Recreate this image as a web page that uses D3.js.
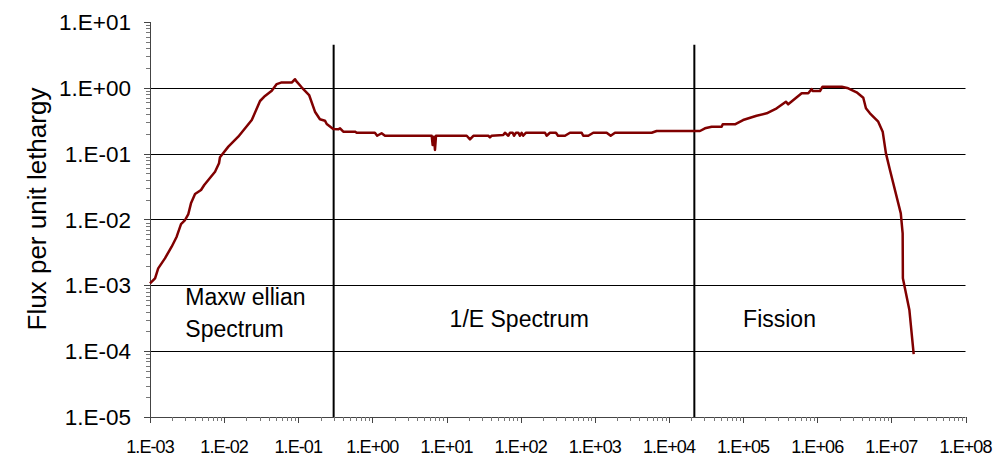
<!DOCTYPE html>
<html lang="en">

<head>
    <meta charset="UTF-8">
    <title>Neutron Flux Spectrum</title>
    <script src="https://d3js.org/d3.v7.min.js"></script>
    <style>
        body { margin: 0; background: #fff; }
        svg { display: block; font-family: "Liberation Sans", Arial, sans-serif; }
    </style>
</head>

<body>
    <div id="chart"></div>

    <script>
        // energy (eV) and flux per unit lethargy
        const energy = [
            1.0e-3, 1.17e-3, 1.29e-3, 1.59e-3, 1.96e-3, 2.29e-3, 2.62e-3, 2.97e-3, 3.29e-3, 3.57e-3,
            4.05e-3, 4.88e-3, 5.39e-3, 7.54e-3, 8.53e-3, 8.79e-3, 1.14e-2, 1.55e-2, 2.36e-2, 3.05e-2,
            3.56e-2, 4.39e-2, 5.12e-2, 5.85e-2, 8.15e-2, 9.04e-2, 9.53e-2, 0.111, 0.140, 0.168,
            0.196, 0.229, 0.242, 0.296, 0.347, 0.366, 0.405, 0.582, 0.614, 1.08,
            1.16, 1.33, 1.48, 6.31, 6.50, 6.77, 6.98, 7.21, 18.7, 20.7,
            23.0, 36.6, 38.5, 40.6, 58.2, 61.4, 68.1, 71.8, 78.0, 81.3,
            86.4, 92.9, 97.9, 103, 108, 118, 213, 224, 248, 299,
            319, 396, 462, 665, 698, 817, 953, 1445, 1637, 1871,
            5848, 6823, 26200, 30600, 37700, 51400, 53100, 77700, 1.0e5, 1.52e5,
            2.08e5, 2.84e5, 3.78e5, 4.06e5, 6.17e5, 7.57e5, 8.41e5, 8.67e5, 1.09e6, 1.18e6,
            2.14e6, 2.62e6, 3.40e6, 4.18e6, 4.54e6, 5.14e6, 6.65e6, 7.64e6, 8.45e6, 9.57e6,
            1.34e7, 1.42e7, 1.43e7, 1.75e7, 2.0e7
        ];
        const flux = [
            1.07e-3, 1.28e-3, 1.81e-3, 2.57e-3, 3.86e-3, 5.48e-3, 8.53e-3, 9.82e-3, 1.21e-2, 1.76e-2,
            2.44e-2, 2.81e-2, 3.34e-2, 5.32e-2, 7.14e-2, 8.81e-2, 0.128, 0.181, 0.324, 0.631,
            0.752, 0.904, 1.14, 1.20, 1.20, 1.35, 1.24, 1.02, 0.778, 0.434,
            0.333, 0.317, 0.282, 0.237, 0.234, 0.243, 0.216, 0.216, 0.208, 0.208,
            0.187, 0.204, 0.187, 0.187, 0.135, 0.181, 0.114, 0.187, 0.187, 0.165,
            0.187, 0.187, 0.177, 0.187, 0.192, 0.208, 0.187, 0.208, 0.208, 0.187,
            0.208, 0.208, 0.187, 0.208, 0.187, 0.208, 0.208, 0.187, 0.208, 0.208,
            0.187, 0.187, 0.208, 0.208, 0.187, 0.187, 0.208, 0.208, 0.187, 0.208,
            0.208, 0.221, 0.221, 0.243, 0.257, 0.257, 0.279, 0.279, 0.324, 0.377,
            0.410, 0.489, 0.616, 0.562, 0.826, 0.826, 0.960, 0.895, 0.895, 1.04,
            1.04, 0.984, 0.855, 0.708, 0.489, 0.410, 0.306, 0.216, 0.101, 5.65e-2,
            1.24e-2, 6.17e-3, 1.28e-3, 4.22e-4, 9.0e-5
        ];

        // region boundaries (eV) and labels
        const boundaries = [0.3, 2.2e4];
        const boundaryTop = 4.5;
        const regionNames = [["Maxw ellian", "Spectrum"], ["1/E Spectrum"], ["Fission"]];
        const regionAt = [[3e-3, 5e-4], [11, 2.3e-4], [1e5, 2.3e-4]];

        const xDecades = d3.range(-3, 9);
        const yDecades = d3.range(-5, 2);
        const yTitle = "Flux per unit lethargy";

        const width = 999, height = 457;
        const plotL = 150, plotR = 965.5, plotT = 22, plotB = 417;

        const x = d3.scaleLog().domain([1e-3, 1e8]).range([plotL, plotR]);
        const y = d3.scaleLog().domain([1e-5, 1e1]).range([plotB, plotT]);

        const expLabel = e => "1.E" + (e < 0 ? "-" : "+") + String(Math.abs(e)).padStart(2, "0");

        const svg = d3.select("#chart").append("svg")
            .attr("width", width)
            .attr("height", height);

        // horizontal gridlines (not at top or bottom)
        svg.append("g")
            .selectAll("line")
            .data(yDecades.filter(e => e > -5 && e < 1))
            .enter().append("line")
            .attr("x1", plotL).attr("x2", plotR)
            .attr("y1", d => Math.round(y(Math.pow(10, d))) + 0.5)
            .attr("y2", d => Math.round(y(Math.pow(10, d))) + 0.5)
            .attr("stroke", "#000")
            .attr("stroke-width", 1);

        // minor tick values
        const minor = (decades) => {
            const out = [];
            decades.slice(0, -1).forEach(e => {
                for (let k = 2; k <= 9; k++) out.push(k * Math.pow(10, e));
            });
            return out;
        };

        // y axis
        const yAxis = svg.append("g");
        yAxis.append("line")
            .attr("x1", plotL + 0.5).attr("x2", plotL + 0.5)
            .attr("y1", plotT).attr("y2", plotB)
            .attr("stroke", "#444");
        yAxis.selectAll(".ymaj")
            .data(yDecades)
            .enter().append("line")
            .attr("x1", plotL - 6).attr("x2", plotL)
            .attr("y1", d => Math.round(y(Math.pow(10, d))) + 0.5)
            .attr("y2", d => Math.round(y(Math.pow(10, d))) + 0.5)
            .attr("stroke", "#444");
        yAxis.selectAll(".ymin")
            .data(minor(yDecades))
            .enter().append("line")
            .attr("x1", plotL - 4).attr("x2", plotL)
            .attr("y1", d => Math.round(y(d)) + 0.5)
            .attr("y2", d => Math.round(y(d)) + 0.5)
            .attr("stroke", "#777");
        yAxis.selectAll("text")
            .data(yDecades)
            .enter().append("text")
            .attr("x", 131)
            .attr("y", d => y(Math.pow(10, d)))
            .attr("dy", "0.36em")
            .attr("text-anchor", "end")
            .attr("font-size", 22.5)
            .text(d => expLabel(d));

        // x axis
        const xAxis = svg.append("g");
        xAxis.append("line")
            .attr("x1", plotL).attr("x2", plotR)
            .attr("y1", plotB + 0.5).attr("y2", plotB + 0.5)
            .attr("stroke", "#444");
        xAxis.selectAll(".xmaj")
            .data(xDecades)
            .enter().append("line")
            .attr("x1", d => Math.round(x(Math.pow(10, d))) + 0.5)
            .attr("x2", d => Math.round(x(Math.pow(10, d))) + 0.5)
            .attr("y1", plotB).attr("y2", plotB + 6)
            .attr("stroke", "#444");
        xAxis.selectAll(".xmin")
            .data(minor(xDecades))
            .enter().append("line")
            .attr("x1", d => Math.round(x(d)) + 0.5)
            .attr("x2", d => Math.round(x(d)) + 0.5)
            .attr("y1", plotB).attr("y2", plotB + 4)
            .attr("stroke", "#777");
        xAxis.selectAll("text")
            .data(xDecades)
            .enter().append("text")
            .attr("x", d => x(Math.pow(10, d)))
            .attr("y", 452.5)
            .attr("text-anchor", "middle")
            .attr("font-size", 18)
            .attr("letter-spacing", -0.9)
            .text(d => expLabel(d));

        // y title
        svg.append("text")
            .attr("transform", "translate(46,209) rotate(-90)")
            .attr("text-anchor", "middle")
            .attr("font-size", 26)
            .text(yTitle);

        // region boundaries
        svg.append("g")
            .selectAll("line")
            .data(boundaries)
            .enter().append("line")
            .attr("x1", d => x(d)).attr("x2", d => x(d))
            .attr("y1", y(boundaryTop)).attr("y2", plotB)
            .attr("stroke", "#000")
            .attr("stroke-width", 2);

        // region labels
        svg.append("g")
            .selectAll("text")
            .data(regionNames)
            .enter().append("text")
            .attr("x", (d, i) => x(regionAt[i][0]))
            .attr("y", (d, i) => y(regionAt[i][1]))
            .attr("font-size", 23)
            .each(function (d, i) {
                d3.select(this).selectAll("tspan")
                    .data(d)
                    .enter().append("tspan")
                    .attr("x", x(regionAt[i][0]))
                    .attr("dy", (t, j) => j === 0 ? 0 : 32)
                    .text(t => t);
            });

        // flux curve
        const line = d3.line()
            .x((d, i) => x(energy[i]))
            .y((d, i) => y(flux[i]));

        svg.append("path")
            .datum(flux)
            .attr("d", line)
            .attr("fill", "none")
            .attr("stroke", "#800000")
            .attr("stroke-width", 2.5)
            .attr("stroke-linejoin", "round");
    </script>
</body>

</html>
